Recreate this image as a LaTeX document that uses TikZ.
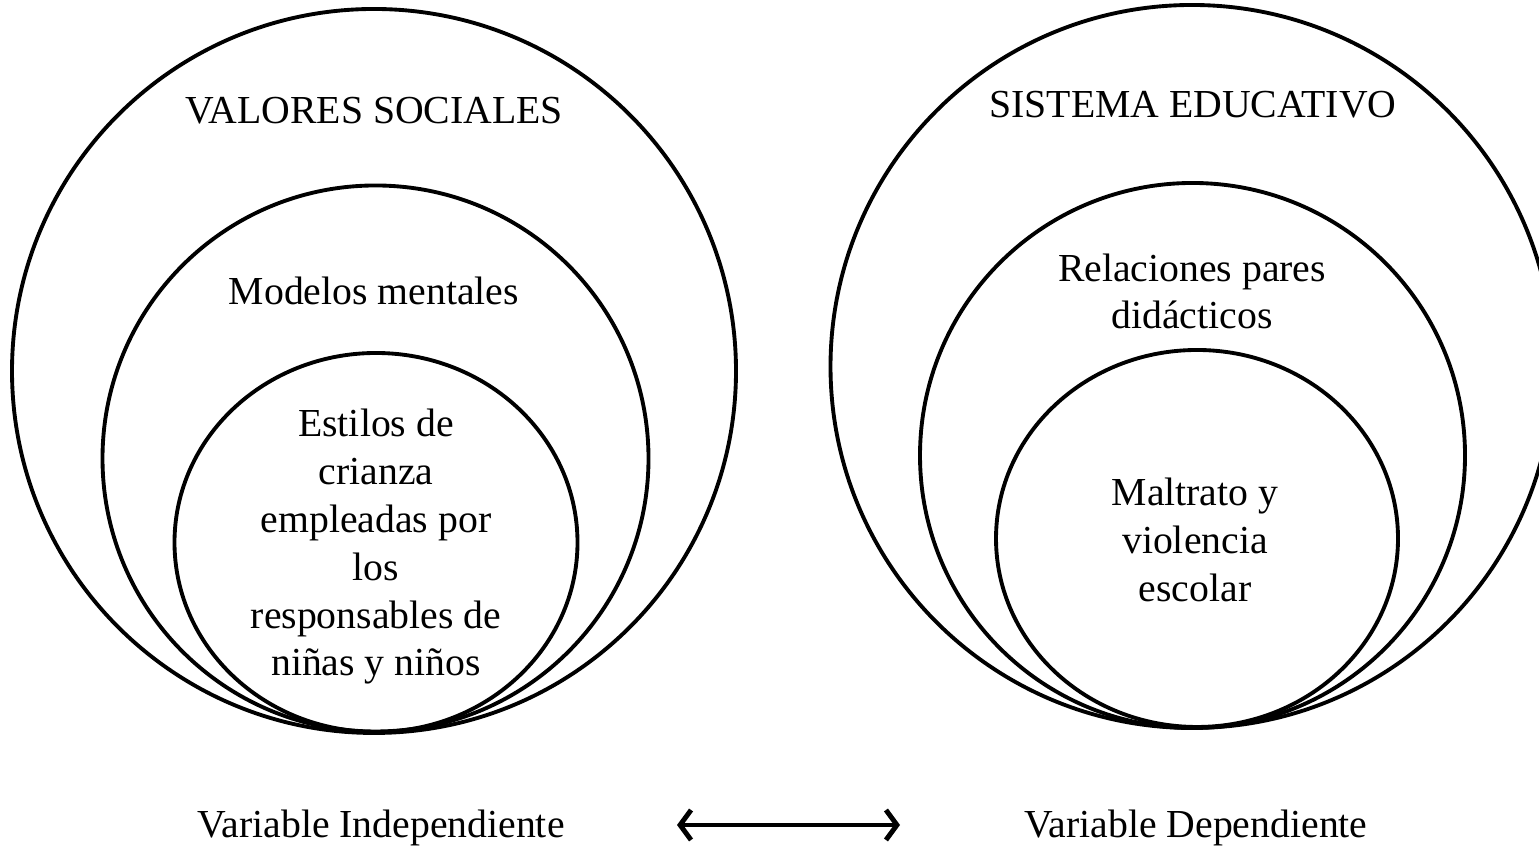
\documentclass[tikz,border=0pt]{standalone}
\usepackage{fontspec}
\setmainfont{Liberation Serif}
\usepackage{tikz}
\usetikzlibrary{shapes.geometric, arrows.meta, positioning}

\begin{document}
\begin{tikzpicture}[
    circulo/.style={draw, circle, line width=1.1pt, inner sep=0pt},
    ovalo/.style={draw, ellipse, line width=1.1pt, inner sep=0pt},
    texto/.style={font=\fontsize{11.3}{13.6}\selectfont, align=center, inner sep=0pt},
    arrow/.style={{Straight Barb[length=1.1mm, width=3.0mm]}-{Straight Barb[length=1.1mm, width=3.0mm]}, line width=1.4pt}
]

% marco de la figura
\useasboundingbox (0,0) rectangle (15.39,8.50);

% --- Conjunto izquierdo (Variable Independiente) ---
\node (valores) [circulo, minimum size=7.24cm] at (3.74,4.79) {};
\node (modelos) [circulo, minimum size=5.46cm] at (3.755,3.915) {};
\node (estilos) [ovalo, minimum width=4.03cm, minimum height=3.79cm] at (3.76,3.075) {};

\node (valores_txt) [texto, anchor=base] at (3.74,7.26) {VALORES SOCIALES};
\node (modelos_txt) [texto, anchor=base] at (3.74,5.45) {Modelos mentales};
\node (estilos_txt) [texto] at (3.76,3.03) {Estilos de\\crianza\\empleadas por\\los\\responsables de\\niñas y niños};

% --- Conjunto derecho (Variable Dependiente) ---
\node (sistema) [circulo, minimum size=7.23cm] at (11.92,4.835) {};
\node (relaciones) [circulo, minimum size=5.45cm] at (11.925,3.945) {};
\node (maltrato) [ovalo, minimum width=4.02cm, minimum height=3.77cm] at (11.97,3.115) {};

\node (sistema_txt) [texto, anchor=base] at (11.93,7.32) {SISTEMA EDUCATIVO};
\node (relaciones_txt) [texto] at (11.92,5.585) {Relaciones pares\\didácticos};
\node (maltrato_txt) [texto] at (11.95,3.10) {Maltrato y\\violencia\\escolar};

% --- Etiquetas de variables ---
\node (indep) [texto, anchor=base] at (3.81,0.12) {Variable Independiente};
\node (dep) [texto, anchor=base] at (11.96,0.12) {Variable Dependiente};

% Relación entre ambas variables
\coordinate (flecha_izq) at (6.77,0.25);
\coordinate (flecha_der) at (9.00,0.25);
\draw [arrow] (flecha_izq) -- (flecha_der);

\end{tikzpicture}
\end{document}
